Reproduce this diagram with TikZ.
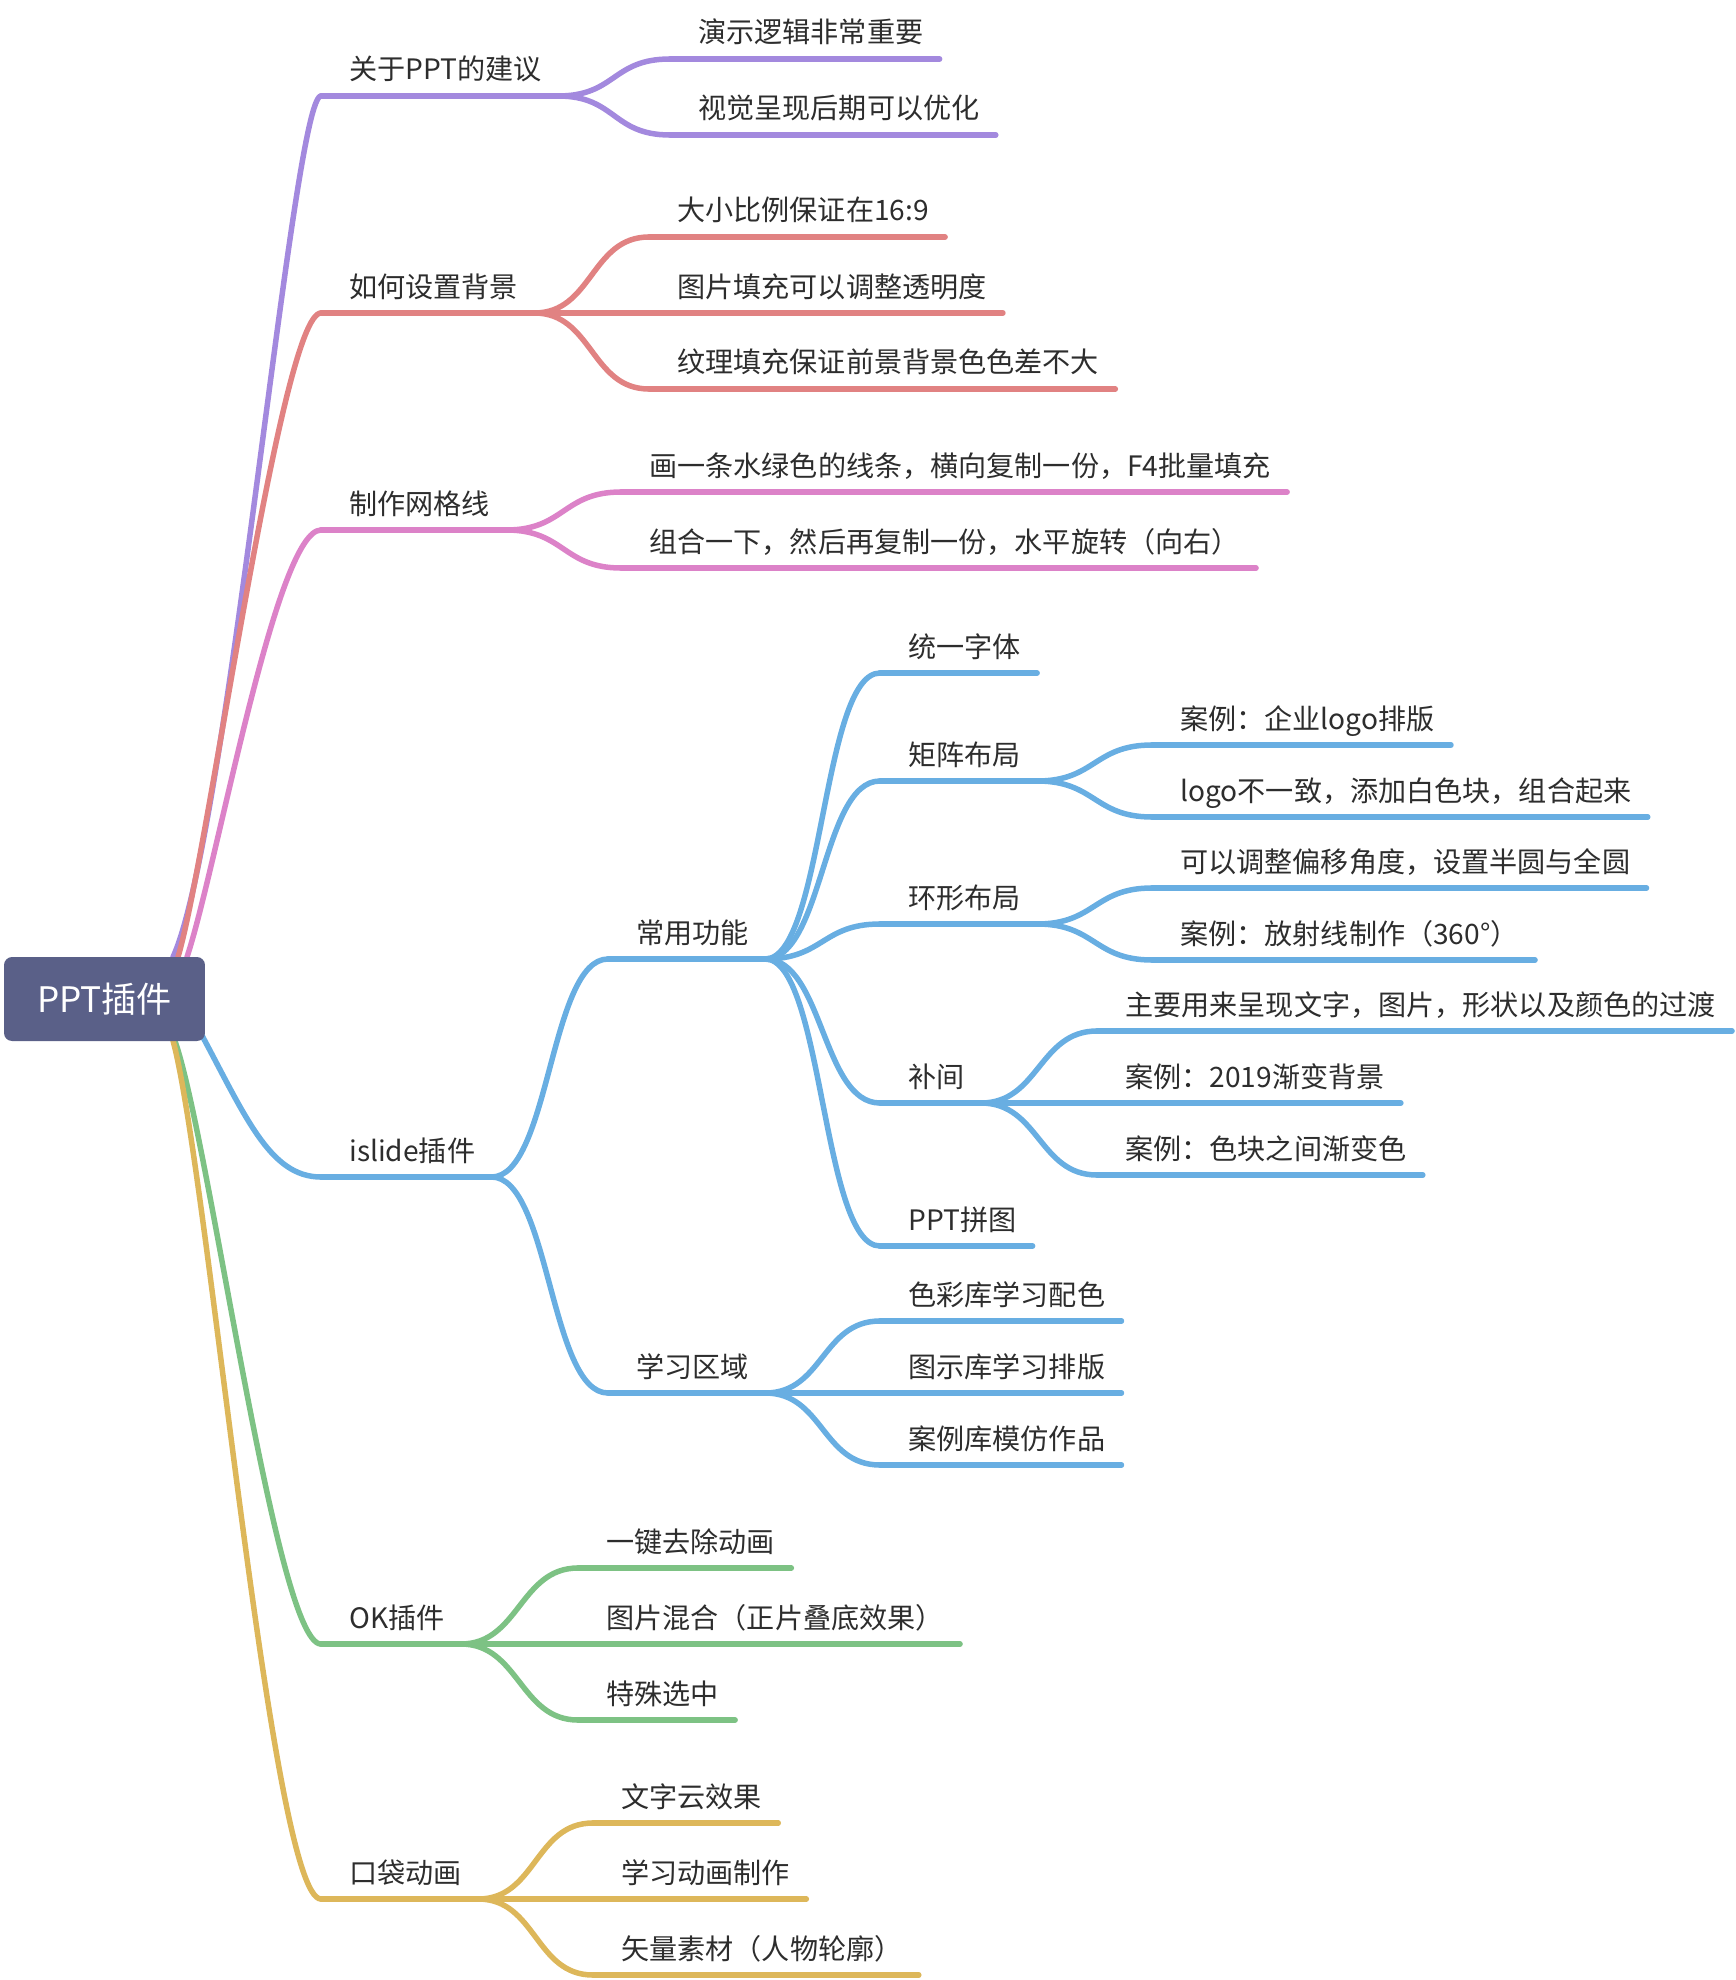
\documentclass[tikz,border=0pt]{standalone}
\usepackage{fontspec}
\usepackage{tikz}
\usetikzlibrary{calc}
\newfontfamily\cjk{Noto Sans CJK SC}
\definecolor{cpurple}{RGB}{163,137,222}
\definecolor{cred}{RGB}{225,130,130}
\definecolor{cpink}{RGB}{220,130,200}
\definecolor{cblue}{RGB}{104,174,226}
\definecolor{cgreen}{RGB}{125,194,132}
\definecolor{cyellow}{RGB}{221,183,90}
\definecolor{rootblue}{RGB}{90,96,136}
\definecolor{txtgray}{RGB}{45,45,45}

\begin{document}
\begin{tikzpicture}[x=0.02cm, y=-0.02cm,
  topic/.style={anchor=base west, inner sep=0pt, text=txtgray,
    font=\cjk\fontsize{16}{19}\selectfont},
  rootbox/.style={fill=rootblue, text=white, rounded corners=0.16cm,
    minimum width=4.02cm, minimum height=1.68cm, inner sep=0pt,
    font=\cjk\fontsize{20}{24}\selectfont},
  branch/.style={line width=0.11cm, line cap=round},
  sbend/.style={to path={.. controls +(58,0) and +(-58,0) .. (\tikztotarget)}}]
\useasboundingbox (0,0) rectangle (1736,1980);
% first level
\node[topic] (suggest) at (349,80) {关于PPT的建议};
\node[topic] (bg) at (349,297) {如何设置背景};
\node[topic] (grid) at (349,514) {制作网格线};
\node[topic] (islide) at (349,1161) {islide插件};
\node[topic] (ok) at (349,1628) {OK插件};
\node[topic] (pocket) at (349,1883) {口袋动画};
% second level
\node[topic] (suggest1) at (698,43) {演示逻辑非常重要};
\node[topic] (suggest2) at (698,119) {视觉呈现后期可以优化};
\node[topic] (bg1) at (677,221) {大小比例保证在16:9};
\node[topic] (bg2) at (677,297) {图片填充可以调整透明度};
\node[topic] (bg3) at (677,373) {纹理填充保证前景背景色色差不大};
\node[topic] (grid1) at (649,476) {画一条水绿色的线条，横向复制一份，F4批量填充};
\node[topic] (grid2) at (649,552) {组合一下，然后再复制一份，水平旋转（向右）};
\node[topic] (common) at (636,943) {常用功能};
\node[topic] (study) at (636,1377) {学习区域};
\node[topic] (ok1) at (606,1552) {一键去除动画};
\node[topic] (ok2) at (606,1628) {图片混合（正片叠底效果）};
\node[topic] (ok3) at (606,1704) {特殊选中};
\node[topic] (pocket1) at (621,1807) {文字云效果};
\node[topic] (pocket2) at (621,1883) {学习动画制作};
\node[topic] (pocket3) at (621,1959) {矢量素材（人物轮廓）};
% islide details
\node[topic] (font) at (908,657) {统一字体};
\node[topic] (matrix) at (908,765) {矩阵布局};
\node[topic] (ring) at (908,908) {环形布局};
\node[topic] (tween) at (908,1087) {补间};
\node[topic] (jigsaw) at (908,1230) {PPT拼图};
\node[topic] (study1) at (908,1305) {色彩库学习配色};
\node[topic] (study2) at (908,1377) {图示库学习排版};
\node[topic] (study3) at (908,1449) {案例库模仿作品};
\node[topic] (matrix1) at (1180,729) {案例：企业logo排版};
\node[topic] (matrix2) at (1180,801) {logo不一致，添加白色块，组合起来};
\node[topic] (ring1) at (1180,872) {可以调整偏移角度，设置半圆与全圆};
\node[topic] (ring2) at (1180,944) {案例：放射线制作（360°）};
\node[topic] (tween1) at (1125,1015) {主要用来呈现文字，图片，形状以及颜色的过渡};
\node[topic] (tween2) at (1125,1087) {案例：2019渐变背景};
\node[topic] (tween3) at (1125,1159) {案例：色块之间渐变色};
% underline ends of every topic
\foreach \n in {suggest,bg,grid,islide,ok,pocket,suggest1,suggest2,bg1,bg2,bg3,
    grid1,grid2,common,study,ok1,ok2,ok3,pocket1,pocket2,pocket3,font,matrix,
    ring,tween,jigsaw,study1,study2,study3,matrix1,matrix2,ring1,ring2,
    tween1,tween2,tween3} {
  \coordinate (\n-l) at ($(\n.base west)+(-28,16)$);
  \coordinate (\n-r) at ($(\n.base east)+(16,16)$);
}
% where the main branches leave the root
\coordinate (r-pu) at (173,957);
\coordinate (r-re) at (178,957);
\coordinate (r-pi) at (187,957);
\coordinate (r-bl) at (198,1028);
\coordinate (r-gr) at (175,1041);
\coordinate (r-ye) at (172,1037);
% purple
\draw[branch, cpurple] (r-pu) .. controls +(55,-120) and +(-28,0) .. (suggest-l);
\foreach \n in {suggest,suggest1,suggest2} \draw[branch, cpurple] (\n-l) -- (\n-r);
\foreach \n in {suggest1,suggest2} \draw[branch, cpurple] (suggest-r) to[sbend] (\n-l);
% red
\draw[branch, cred] (r-re) .. controls +(30,-100) and +(-40,0) .. (bg-l);
\foreach \n in {bg,bg1,bg2,bg3} \draw[branch, cred] (\n-l) -- (\n-r);
\foreach \n in {bg1,bg2,bg3} \draw[branch, cred] (bg-r) to[sbend] (\n-l);
% pink
\draw[branch, cpink] (r-pi) .. controls +(30,-90) and +(-45,0) .. (grid-l);
\foreach \n in {grid,grid1,grid2} \draw[branch, cpink] (\n-l) -- (\n-r);
\foreach \n in {grid1,grid2} \draw[branch, cpink] (grid-r) to[sbend] (\n-l);
% blue
\draw[branch, cblue] (r-bl) .. controls +(47,87) and +(-52,0) .. (islide-l);
\foreach \n in {islide,common,study,font,matrix,ring,tween,jigsaw,study1,study2,
    study3,matrix1,matrix2,ring1,ring2,tween1,tween2,tween3}
  \draw[branch, cblue] (\n-l) -- (\n-r);
\foreach \n in {common,study} \draw[branch, cblue] (islide-r) to[sbend] (\n-l);
\foreach \n in {font,matrix,ring,tween,jigsaw} \draw[branch, cblue] (common-r) to[sbend] (\n-l);
\foreach \n in {matrix1,matrix2} \draw[branch, cblue] (matrix-r) to[sbend] (\n-l);
\foreach \n in {ring1,ring2} \draw[branch, cblue] (ring-r) to[sbend] (\n-l);
\foreach \n in {tween1,tween2,tween3} \draw[branch, cblue] (tween-r) to[sbend] (\n-l);
\foreach \n in {study1,study2,study3} \draw[branch, cblue] (study-r) to[sbend] (\n-l);
% green
\draw[branch, cgreen] (r-gr) .. controls +(35,100) and +(-45,0) .. (ok-l);
\foreach \n in {ok,ok1,ok2,ok3} \draw[branch, cgreen] (\n-l) -- (\n-r);
\foreach \n in {ok1,ok2,ok3} \draw[branch, cgreen] (ok-r) to[sbend] (\n-l);
% yellow
\draw[branch, cyellow] (r-ye) .. controls +(35,120) and +(-50,0) .. (pocket-l);
\foreach \n in {pocket,pocket1,pocket2,pocket3} \draw[branch, cyellow] (\n-l) -- (\n-r);
\foreach \n in {pocket1,pocket2,pocket3} \draw[branch, cyellow] (pocket-r) to[sbend] (\n-l);
% root on top
\node[rootbox] (root) at (104.5,999) {PPT插件};
\end{tikzpicture}
\end{document}
